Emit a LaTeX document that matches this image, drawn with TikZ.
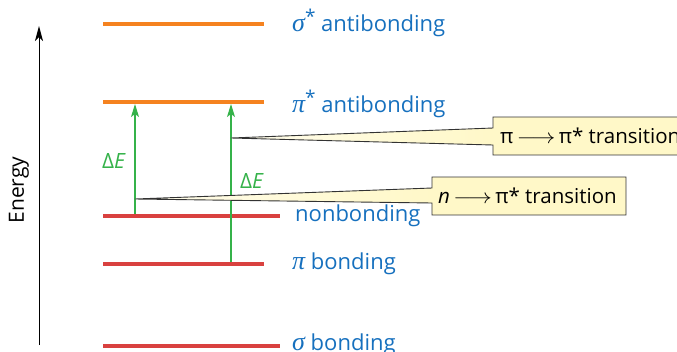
\documentclass[tikz,border=0pt]{standalone}
\usepackage{fontspec}
\setmainfont{Open Sans}
\newfontfamily\grk{Liberation Serif}
\usetikzlibrary{arrows.meta}
\definecolor{orb}{HTML}{F5821F}
\definecolor{redl}{HTML}{D9413F}
\definecolor{bluet}{HTML}{1670BE}
\definecolor{greena}{HTML}{35B24A}
\definecolor{callfill}{HTML}{FFF8C8}
\definecolor{callline}{HTML}{333333}
\newcommand{\lgarr}{\,\scalebox{1.15}[1]{$\longrightarrow$}\,}
\newcommand{\grkit}[1]{{\grk\itshape\fontsize{26}{26}\selectfont #1}}
\newcommand{\strsup}{\raisebox{0.35em}{\fontsize{19}{19}\selectfont *}}
\begin{document}
\begin{tikzpicture}[x=1pt,y=-1pt,
  antilevel/.style={draw=orb,line width=4.8pt},
  bondlevel/.style={draw=redl,line width=4.8pt},
  lvllabel/.style={anchor=west,text=bluet,font=\fontsize{22}{24}\selectfont,inner sep=0pt},
  excite/.style={draw=greena,line width=1.2pt,-{Stealth[length=13pt,width=8pt,inset=3pt]}},
  delabel/.style={text=greena,font=\fontsize{21}{22}\selectfont,inner sep=0pt},
  callout/.style={draw=callline,line width=0.9pt,line join=miter},
  wedgeshade/.style={left color=callfill!35!white,right color=callfill},
  calltext/.style={anchor=west,font=\fontsize{20.5}{22}\selectfont,inner sep=0pt}]
\useasboundingbox (0,0) rectangle (677,351);
\clip (0,0) rectangle (677,351);
% energy axis
\coordinate (ax0) at (39,345);
\coordinate (ax1) at (39,26);
\draw[line width=1pt,-{Stealth[length=15pt,width=8pt,inset=4pt]}] (ax0) -- (ax1);
\node[rotate=90,font=\fontsize{21}{24}\selectfont,inner sep=0pt] (energy) at (19,190) {Energy};
% levels
\coordinate (ss0) at (103,24);  \coordinate (ss1) at (264,24);
\coordinate (ps0) at (103,102); \coordinate (ps1) at (264,102);
\coordinate (nb0) at (103,216); \coordinate (nb1) at (280,216);
\coordinate (pb0) at (103,264); \coordinate (pb1) at (264,264);
\coordinate (sb0) at (103,346); \coordinate (sb1) at (280,346);
\draw[antilevel] (ss0) -- (ss1);
\draw[antilevel] (ps0) -- (ps1);
\draw[bondlevel] (nb0) -- (nb1);
\draw[bondlevel] (pb0) -- (pb1);
\draw[bondlevel] (sb0) -- (sb1);
\node[lvllabel] (lss) at (292,23) {\grkit{σ}\strsup\ antibonding};
\node[lvllabel] (lps) at (292,104) {\grkit{π}\strsup\ antibonding};
\node[lvllabel] (lnb) at (295,216) {nonbonding};
\node[lvllabel] (lpb) at (292,264) {\grkit{π} bonding};
\node[lvllabel] (lsb) at (292,345) {\grkit{σ} bonding};
% excitation arrows
\coordinate (a1s) at (135,214);
\coordinate (a1e) at (135,104);
\coordinate (a2s) at (231,262);
\coordinate (a2e) at (231,104);
\draw[excite] (a1s) -- (a1e);
\draw[excite] (a2s) -- (a2e);
\node[delabel] (de1) at (114,161) {Δ\textit{E}};
\node[delabel] (de2) at (252,181) {Δ\textit{E}};
% callouts
\coordinate (t1) at (231,138);
\coordinate (t2) at (135,199);
\shade[wedgeshade] (t1) -- (493,128) -- (493,145) -- cycle;
\fill[callfill] (493,117) rectangle (700,155);
\draw[callout] (t1) -- (493,128) -- (493,117) -- (700,117) -- (700,155) -- (493,155) -- (493,145) -- cycle;
\node[calltext] (c1) at (500,136) {π\lgarr π* transition};
\shade[wedgeshade] (t2) -- (432,188) -- (432,203) -- cycle;
\fill[callfill] (432,177) rectangle (626,215);
\draw[callout] (t2) -- (432,188) -- (432,177) -- (626,177) -- (626,215) -- (432,215) -- (432,203) -- cycle;
\node[calltext] (c2) at (438,196) {\textit{n}\lgarr π* transition};
\end{tikzpicture}
\end{document}
